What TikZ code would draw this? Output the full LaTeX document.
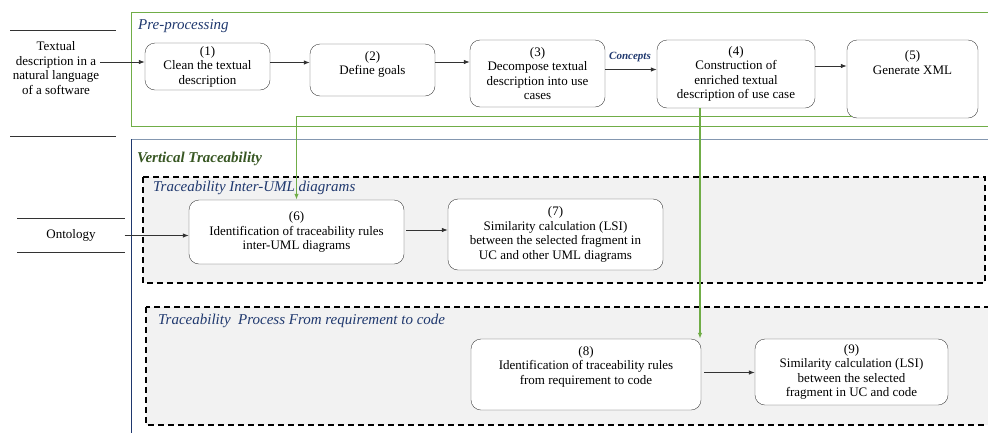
\documentclass[tikz,border=0pt]{standalone}
\usepackage{fontspec}
\setmainfont{Liberation Serif}
\usetikzlibrary{arrows.meta}
\definecolor{procgreen}{RGB}{112,173,71}
\definecolor{titleblue}{RGB}{31,56,110}
\definecolor{titlegreen}{RGB}{56,87,35}
\definecolor{framegray}{RGB}{132,151,176}
\definecolor{areagray}{RGB}{242,242,242}

\begin{document}
\begin{tikzpicture}[x=1pt, y=-1pt,
        stepbox/.style={draw=black!75, rounded corners=10pt, fill=white, align=center, inner sep=2pt, font=\fontsize{13}{14.5}\selectfont},
        flow/.style={-{Latex[length=6pt,width=4.5pt]}, black!80, line width=0.8pt},
        greenflow/.style={-{Latex[length=6pt,width=4.5pt]}, procgreen, line width=1.3pt},
        areatitle/.style={anchor=west, inner sep=0pt, text=titleblue, font=\fontsize{15}{17}\selectfont\itshape},
        dasharea/.style={draw=black, fill=areagray, line width=1.2pt, dash pattern=on 6pt off 4pt}]
        \useasboundingbox (0,0) rectangle (988,432);

        % areas
        \draw[dasharea] (143,177) rectangle (985,283);
        \draw[dasharea] (146,307) rectangle (995,425);
        \draw[procgreen, line width=0.9pt] (995,12) -- (131,12) -- (131,126) -- (995,126);
        \draw[framegray, line width=0.9pt] (995,139) -- (131,139);
        \draw[titleblue, line width=0.9pt] (131,139) -- (131,440);

        \node[areatitle] (pre-title) at (138,26) {Pre-processing};
        \node[areatitle, text=titlegreen, font=\fontsize{15}{17}\selectfont\bfseries\itshape] (vt-title) at (137,159) {Vertical Traceability};
        \node[areatitle] (uml-title) at (153,188) {Traceability Inter-UML diagrams};
        \node[areatitle] (code-title) at (158,321) {Traceability\ \ Process From requirement to code};

        % inputs
        \draw[black!80, line width=0.8pt] (10,30) -- (116,30);
        \draw[black!80, line width=0.8pt] (10,136) -- (116,136);
        \node (in-text) at (56,68) [align=center, inner sep=1pt, font=\fontsize{13}{14.5}\selectfont] {Textual\\description in a\\natural language\\of a software};
        \node (in-onto) at (71,235.5) [minimum width=107pt, minimum height=33pt, inner sep=0pt, font=\fontsize{13}{14.5}\selectfont] {Ontology};
        \draw[black!80, line width=0.8pt] (in-onto.north west) -- (in-onto.north east);
        \draw[black!80, line width=0.8pt] (in-onto.south west) -- (in-onto.south east);

        % steps
        \node (b-1) at (207.5,66.5) [stepbox, minimum width=125pt, minimum height=47pt] {(1)\\Clean the textual\\description};
        \node (b-2) at (372.5,70) [stepbox, minimum width=125pt, minimum height=52pt] {(2)\\Define goals\\\mbox{}};
        \node (b-3) at (537.5,73.5) [stepbox, minimum width=135pt, minimum height=67pt] {(3)\\Decompose textual\\description into use\\cases};
        \node (b-4) at (736,74) [stepbox, minimum width=158pt, minimum height=68pt] {(4)\\Construction of\\enriched textual\\description of use case};
        \node (b-5) at (912.5,79) [stepbox, minimum width=131pt, minimum height=78pt] {(5)\\Generate XML\\[19pt]\mbox{}};

        \node (b-6) at (296.5,232) [stepbox, minimum width=215pt, minimum height=64pt] {(6)\\Identification of traceability rules\\inter-UML diagrams};
        \node (b-7) at (555.5,234.5) [stepbox, minimum width=215pt, minimum height=71pt] {(7)\\Similarity calculation (LSI)\\between the selected fragment in\\UC and other UML diagrams};

        \node (b-8) at (586,374.5) [stepbox, minimum width=230pt, minimum height=71pt] {(8)\\Identification of traceability rules\\from requirement to code\\[4pt]\mbox{}};
        \node (b-9) at (851.5,372) [stepbox, minimum width=193pt, minimum height=66pt] {(9)\\Similarity calculation (LSI)\\between the selected\\fragment in UC and code};

        \node (concepts) at (630,57) [inner sep=0pt, text=titleblue, font=\fontsize{11}{13}\selectfont\bfseries\itshape] {Concepts};

        % arrows
        \draw[flow] ([yshift=6pt]in-text.east) -- ([yshift=6pt]in-text.east -| b-1.west);
        \draw[flow] ([yshift=4pt]b-1.east) -- ([yshift=4pt]b-1.east -| b-2.west);
        \draw[flow] ([yshift=8pt]b-2.east) -- ([yshift=8pt]b-2.east -| b-3.west);
        \draw[flow] ([yshift=4pt]b-3.east) -- ([yshift=4pt]b-3.east -| b-4.west);
        \draw[flow] ([yshift=8pt]b-4.east) -- ([yshift=8pt]b-4.east -| b-5.west);

        \draw[flow] (in-onto.east) -- (in-onto.east -| b-6.west);
        \draw[flow] ([xshift=2pt, yshift=2pt]b-6.east) -- ([yshift=2pt]b-6.east -| b-7.west);
        \draw[flow] ([xshift=3pt, yshift=2pt]b-8.east) -- ([yshift=2pt]b-8.east -| b-9.west);

        \draw[greenflow] ([xshift=5pt, yshift=2pt]b-5.south west) -| (b-6.north);
        \draw[greenflow] ([xshift=-36pt]b-4.south) -- ([xshift=-36pt]b-4.south |- b-8.north);

    \end{tikzpicture}
\end{document}
